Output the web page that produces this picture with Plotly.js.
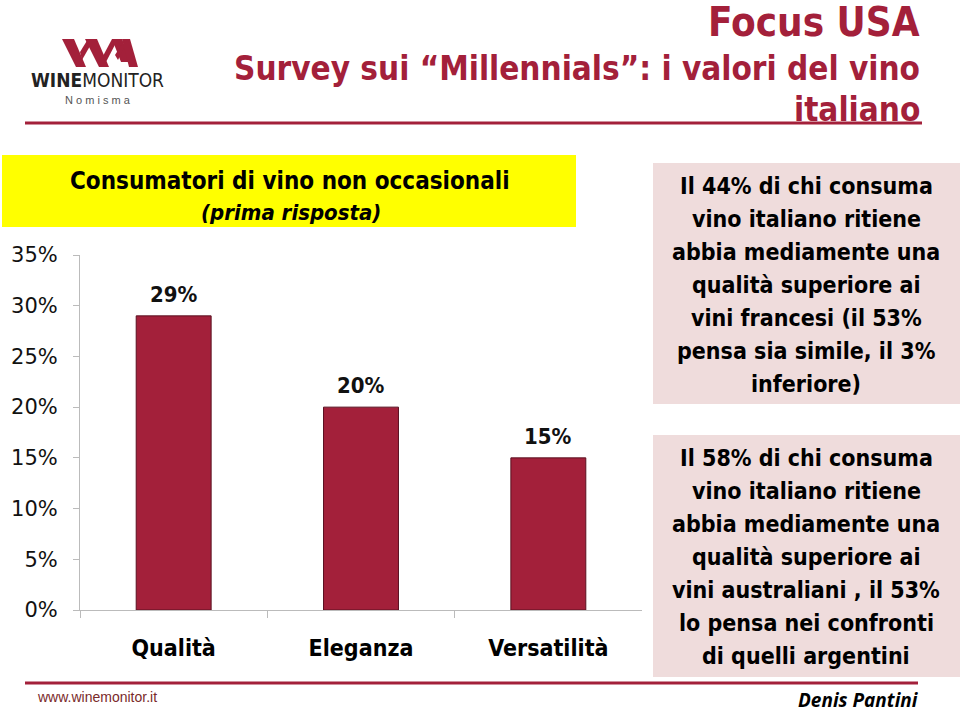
<!DOCTYPE html>
<html>
<head>
<meta charset="utf-8">
<script src="https://cdn.plot.ly/plotly-3.0.1.min.js"></script>
<style>html,body{margin:0;padding:0;background:#fff;}#chart{width:960px;height:713px;}</style>
</head>
<body>
<div id="chart"></div>
<script>
// ---- data ----
const categories = ["Qualità", "Eleganza", "Versatilità"];
const values = [0.29, 0.20, 0.15];
const valueLabels = ["29%", "20%", "15%"];
const yTickVals = [0, 0.05, 0.10, 0.15, 0.20, 0.25, 0.30, 0.35];
const yTickText = ["0%", "5%", "10%", "15%", "20%", "25%", "30%", "35%"];

const mainTitle = "Focus USA";
const subTitle1 = "Survey sui “Millennials”: i valori del vino";
const subTitle2 = "italiano";
const boxTitle = "Consumatori di vino non occasionali";
const boxSubtitle = "(prima risposta)";
const note1Lines = ["Il 44% di chi consuma", "vino italiano ritiene", "abbia mediamente una",
  "qualità superiore ai", "vini francesi (il 53%", "pensa sia simile, il 3%", "inferiore)"];
const note2Lines = ["Il 58% di chi consuma", "vino italiano ritiene", "abbia mediamente una",
  "qualità superiore ai", "vini australiani , il 53%", "lo pensa nei confronti", "di quelli argentini"];
const footerUrl = "www.winemonitor.it";
const author = "Denis Pantini";

// ---- helpers (page pixel -> paper) ----
const W = 960, H = 713;
const px = x => x / W;
const py = y => 1 - y / H;

const RED = "#a3203a";
const NARROW = "'DejaVu Sans Condensed', 'Liberation Sans Narrow', sans-serif";
const COND = "'DejaVu Sans Condensed', sans-serif";

const trace = {
  type: "bar",
  x: categories,
  y: values,
  marker: { color: RED, line: { color: "#5a1020", width: 1 } },
  hoverinfo: "x+y",
  showlegend: false
};

const shapes = [
  { type: "rect", xref: "paper", yref: "paper", x0: px(2), x1: px(576), y0: py(155), y1: py(227),
    fillcolor: "#ffff00", line: { width: 0 }, layer: "below" },
  { type: "rect", xref: "paper", yref: "paper", x0: px(653), x1: px(960), y0: py(163), y1: py(404),
    fillcolor: "#efdcdc", line: { width: 0 }, layer: "below" },
  { type: "rect", xref: "paper", yref: "paper", x0: px(653), x1: px(960), y0: py(435), y1: py(677),
    fillcolor: "#efdcdc", line: { width: 0 }, layer: "below" },
  { type: "line", xref: "paper", yref: "paper", x0: px(25), x1: px(922), y0: py(123), y1: py(123),
    line: { color: RED, width: 3 } },
  { type: "line", xref: "paper", yref: "paper", x0: px(25), x1: px(918), y0: py(683), y1: py(683),
    line: { color: RED, width: 3 } }
];

// logo strokes (decoration)
function poly(pts) {
  return "M " + pts.map(p => px(p[0]) + "," + py(p[1])).join(" L ") + " Z";
}
const logoPolys = [
  [[62,39],[74,39],[86,67],[76,67]],
  [[80,52],[88,39],[94,39],[82,60]],
  [[85,39],[97,39],[109,67],[99,67]],
  [[103,56],[112,39],[118,39],[106,62]],
  [[112,39],[122,39],[131,62],[121,62]],
  [[115,55],[122,44],[126,44],[118,60]],
  [[122,39],[130,39],[138,67],[129,67]]
];
logoPolys.forEach(p => shapes.push({ type: "path", xref: "paper", yref: "paper", path: poly(p),
  fillcolor: RED, line: { width: 0 } }));

const annotations = [];
// bar value labels via data axes
categories.forEach((c, i) => annotations.push({
  x: c, y: values[i], xref: "x", yref: "y", text: "<b>" + valueLabels[i] + "</b>", showarrow: false,
  yanchor: "bottom", yshift: 7, font: { family: COND, size: 22, color: "#111" }
}));

function pa(x, y, text, opts) {
  annotations.push(Object.assign({ xref: "paper", yref: "paper", x: px(x), y: py(y), text: text,
    showarrow: false, xanchor: "center", yanchor: "middle" }, opts));
}
pa(922, 22, "<b>" + mainTitle + "</b>", { xanchor: "right", font: { family: NARROW, size: 40, color: RED } });
pa(922, 68, "<b>" + subTitle1 + "</b>", { xanchor: "right", font: { family: NARROW, size: 33, color: RED } });
pa(922, 110, "<b>" + subTitle2 + "</b>", { xanchor: "right", font: { family: NARROW, size: 33, color: RED } });

pa(290, 181, "<b>" + boxTitle + "</b>", { font: { family: NARROW, size: 24, color: "#000" } });
pa(291, 212, "<b><i>" + boxSubtitle + "</i></b>", { font: { family: NARROW, size: 22, color: "#000" } });

note1Lines.forEach((t, i) => pa(806, 186 + i * 33, "<b>" + t + "</b>", { font: { family: COND, size: 23, color: "#000" } }));
note2Lines.forEach((t, i) => pa(806, 458 + i * 33, "<b>" + t + "</b>", { font: { family: COND, size: 23, color: "#000" } }));

pa(35, 697, footerUrl, { xanchor: "left", font: { family: "'Liberation Sans', sans-serif", size: 14, color: "#7a2a2a" } });
pa(920, 700, "<b><i>" + author + "</i></b>", { xanchor: "right", borderpad: 0, font: { family: "'Open Sans', sans-serif", size: 19, color: "#000" } });

// logo text
pa(97, 80, "<b>WINE</b>MONITOR", { font: { family: NARROW, size: 19, color: "#222" } });
pa(98, 100, "N o m i s m a", { font: { family: "'Liberation Sans', sans-serif", size: 11, color: "#555" } });

const layout = {
  width: W, height: H,
  margin: { l: 0, r: 0, t: 0, b: 0 },
  paper_bgcolor: "#fff", plot_bgcolor: "rgba(0,0,0,0)",
  bargap: 0.6,
  xaxis: {
    domain: [px(80), px(642)], range: [-0.5, 2.5],
    showline: true, linecolor: "#bbbbbb", linewidth: 1,
    ticks: "outside", tickson: "boundaries", ticklen: 7, tickcolor: "#bbbbbb",
    showgrid: false, zeroline: false, fixedrange: true,
    tickfont: { family: COND, size: 23, color: "#000", weight: "bold" },
    ticklabelstandoff: 17
  },
  yaxis: {
    domain: [py(610), py(255)], range: [0, 0.35],
    tickvals: yTickVals, ticktext: yTickText,
    showline: true, linecolor: "#bbbbbb", linewidth: 1,
    ticks: "outside", ticklen: 6, tickcolor: "#bbbbbb",
    showgrid: false, zeroline: false, fixedrange: true,
    tickfont: { family: "'DejaVu Sans', sans-serif", size: 21, color: "#111" },
    ticklabelstandoff: 11
  },
  shapes: shapes,
  annotations: annotations,
  showlegend: false
};

Plotly.newPlot("chart", [trace], layout, { displayModeBar: false, staticPlot: true });
</script>
</body>
</html>
